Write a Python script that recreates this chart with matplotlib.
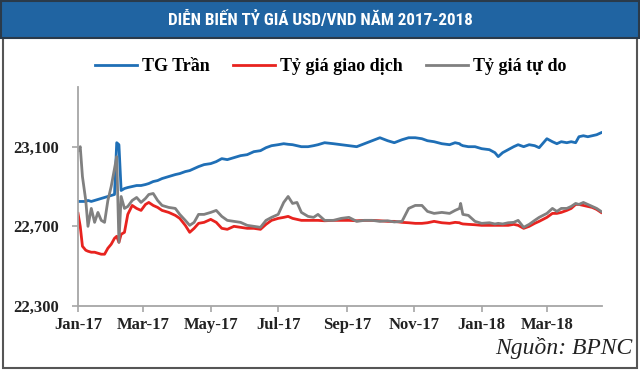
import matplotlib
matplotlib.use("Agg")
import matplotlib.pyplot as plt
import matplotlib.dates as mdates
from matplotlib.patches import Rectangle
from matplotlib.ticker import FuncFormatter
from matplotlib import font_manager
import pandas as pd

# ngay va gia tri doc tu bieu do
dates = [
    "2017-01-01", "2017-01-03", "2017-01-05", "2017-01-08", "2017-01-10", "2017-01-13",
    "2017-01-16", "2017-01-19", "2017-01-22", "2017-01-25", "2017-01-28", "2017-01-31",
    "2017-02-03", "2017-02-05", "2017-02-07", "2017-02-09", "2017-02-12", "2017-02-15",
    "2017-02-19", "2017-02-23", "2017-02-27", "2017-03-03", "2017-03-06", "2017-03-10",
    "2017-03-14", "2017-03-18", "2017-03-24", "2017-03-30", "2017-04-03", "2017-04-08",
    "2017-04-12", "2017-04-16", "2017-04-20", "2017-04-25", "2017-05-01", "2017-05-06",
    "2017-05-11", "2017-05-16", "2017-05-22", "2017-05-28", "2017-06-03", "2017-06-09",
    "2017-06-15", "2017-06-20", "2017-06-25", "2017-07-01", "2017-07-06", "2017-07-10",
    "2017-07-14", "2017-07-18", "2017-07-22", "2017-07-28", "2017-08-02", "2017-08-06",
    "2017-08-12", "2017-08-20", "2017-08-27", "2017-09-03", "2017-09-10", "2017-09-17",
    "2017-09-24", "2017-10-01", "2017-10-08", "2017-10-14", "2017-10-21", "2017-10-27",
    "2017-11-02", "2017-11-08", "2017-11-13", "2017-11-19", "2017-11-26", "2017-12-03",
    "2017-12-08", "2017-12-12", "2017-12-13", "2017-12-15", "2017-12-20", "2017-12-26",
    "2018-01-01", "2018-01-08", "2018-01-13", "2018-01-16", "2018-01-20", "2018-01-25",
    "2018-01-30", "2018-02-03", "2018-02-08", "2018-02-13", "2018-02-18", "2018-02-22",
    "2018-03-01", "2018-03-06", "2018-03-10", "2018-03-14", "2018-03-19", "2018-03-23",
    "2018-03-27", "2018-03-30", "2018-04-03", "2018-04-07", "2018-04-11", "2018-04-15",
    "2018-04-19",
]

tg_tran = [
    22825, 22825, 22825, 22825, 22830, 22825, 22830, 22835, 22840, 22845, 22850, 22855,
    22860, 23120, 23110, 22880, 22890, 22895, 22900, 22905, 22905, 22910, 22915, 22925,
    22930, 22940, 22950, 22960, 22965, 22975, 22980, 22990, 23000, 23010, 23015, 23025,
    23040, 23035, 23045, 23055, 23060, 23075, 23080, 23095, 23105, 23110, 23115, 23112,
    23110, 23105, 23100, 23100, 23105, 23110, 23120, 23115, 23110, 23105, 23100, 23115,
    23130, 23145, 23130, 23120, 23135, 23145, 23145, 23140, 23130, 23125, 23115, 23110,
    23120, 23115, 23110, 23105, 23100, 23100, 23090, 23085, 23070, 23050, 23070, 23085,
    23100, 23110, 23100, 23110, 23105, 23095, 23140, 23125, 23115, 23125, 23120, 23125,
    23120, 23150, 23155, 23150, 23155, 23160, 23170,
]

giao_dich = [
    22765, 22700, 22600, 22580, 22575, 22570, 22570, 22565, 22560, 22560, 22590, 22610,
    22640, 22650, 22620, 22660, 22670, 22760, 22805, 22790, 22780, 22810, 22820, 22805,
    22795, 22780, 22770, 22755, 22740, 22705, 22670, 22690, 22715, 22720, 22735, 22720,
    22690, 22685, 22700, 22695, 22690, 22690, 22685, 22710, 22730, 22740, 22745, 22750,
    22740, 22735, 22730, 22730, 22730, 22730, 22728, 22730, 22730, 22730, 22728, 22730,
    22730, 22728, 22725, 22725, 22720, 22718, 22715, 22715, 22718, 22725, 22718, 22715,
    22720, 22718, 22715, 22712, 22710, 22708, 22705, 22705, 22705, 22705, 22705, 22705,
    22710, 22705, 22690, 22700, 22715, 22725, 22745, 22765, 22765, 22770, 22780, 22790,
    22810, 22810, 22805, 22800, 22795, 22785, 22770,
]

tu_do = [
    23080, 23100, 22950, 22830, 22700, 22790, 22720, 22770, 22730, 22720, 22830, 22900,
    22990, 23050, 22620, 22850, 22790, 22800, 22830, 22845, 22820, 22840, 22860, 22865,
    22830, 22805, 22795, 22790, 22760, 22730, 22705, 22720, 22760, 22760, 22770, 22780,
    22750, 22730, 22725, 22720, 22705, 22700, 22695, 22730, 22745, 22760, 22820, 22850,
    22815, 22820, 22770, 22750, 22745, 22760, 22730, 22730, 22740, 22745, 22725, 22730,
    22730, 22725, 22728, 22722, 22725, 22790, 22805, 22805, 22775, 22765, 22770, 22765,
    22780, 22790, 22815, 22760, 22755, 22725, 22715, 22718, 22712, 22715, 22712, 22718,
    22720, 22730, 22695, 22710, 22730, 22745, 22765, 22790, 22775, 22790, 22790, 22800,
    22815, 22810, 22820, 22810, 22800, 22790, 22775,
]

y_ticks = [22300, 22700, 23100]
series_labels = ["TG Trần", "Tỷ giá giao dịch", "Tỷ giá tự do"]
title = "DIỄN BIẾN TỶ GIÁ USD/VND NĂM 2017-2018"
source = "Nguồn: BPNC"

df = pd.DataFrame({"date": pd.to_datetime(dates), "tran": tg_tran,
                   "gd": giao_dich, "td": tu_do})

# font hep cho tieu de neu co
names = {f.name for f in font_manager.fontManager.ttflist}
title_family = ["DejaVu Sans"]
for cand in ["Liberation Sans Narrow", "DejaVu Sans Condensed", "Roboto Condensed", "Open Sans Condensed"]:
    if cand in names:
        title_family = [cand, "DejaVu Sans"]
        break

fig = plt.figure(figsize=(6.4, 3.7), dpi=100)
fig.patch.set_facecolor("white")

# khung ngoai va thanh tieu de
fig.add_artist(Rectangle((0.004, 0.006), 0.992, 0.99, transform=fig.transFigure,
                         fill=False, edgecolor="#555555", linewidth=1.5))
fig.add_artist(Rectangle((0.002, 0.897), 0.996, 0.101, transform=fig.transFigure,
                         facecolor="#2064a2", edgecolor="#2a3a4a", linewidth=1.5))
ttl = fig.text(0.5, 0.948, title, ha="center", va="center", color="white",
               fontsize=14, fontweight="bold", fontstretch="condensed",
               family=title_family)
# thu nho co chu cho vua chieu rong ~300px
renderer = fig.canvas.get_renderer()
w = ttl.get_window_extent(renderer).width
if w > 305:
    ttl.set_fontsize(14 * 305 / w)

ax = fig.add_axes([0.1219, 0.173, 0.819, 0.592])
ax.plot(df["date"], df["tran"], color="#1f6fb6", lw=2.0, label=series_labels[0])
ax.plot(df["date"], df["gd"], color="#e8231f", lw=2.0, label=series_labels[1])
ax.plot(df["date"], df["td"], color="#808080", lw=2.0, label=series_labels[2])

ax.set_xlim(pd.Timestamp("2017-01-01"), pd.Timestamp("2018-04-20"))
ax.set_ylim(22300, 23400)
ax.set_yticks(y_ticks)
ax.yaxis.set_major_formatter(FuncFormatter(lambda v, p: f"{int(v):,}"))
ax.xaxis.set_major_locator(mdates.MonthLocator(bymonth=[1, 3, 5, 7, 9, 11]))
ax.xaxis.set_major_formatter(mdates.DateFormatter("%b-%y"))

for s in ["top", "right"]:
    ax.spines[s].set_visible(False)
for s in ["left", "bottom"]:
    ax.spines[s].set_color("#a6a6a6")
    ax.spines[s].set_linewidth(1.3)
ax.tick_params(axis="both", colors="#a6a6a6", length=4, width=1.2)
ax.tick_params(axis="x", pad=4)
ax.tick_params(axis="y", pad=10)
for lab in ax.get_xticklabels() + ax.get_yticklabels():
    lab.set_family("Liberation Serif")
    lab.set_fontweight("bold")
    lab.set_fontsize(12)
    lab.set_color("#222222")

fig.legend(loc="center", bbox_to_anchor=(0.517, 0.819), ncol=3, frameon=False,
           prop={"family": "Liberation Serif", "weight": "bold", "size": 13},
           handlelength=2.3, handletextpad=0.3, columnspacing=1.3)

fig.text(0.988, 0.06, source, ha="right", va="center", fontsize=17,
         style="italic", family="Liberation Serif", color="#222222")

fig.savefig("out.png", dpi=100)
